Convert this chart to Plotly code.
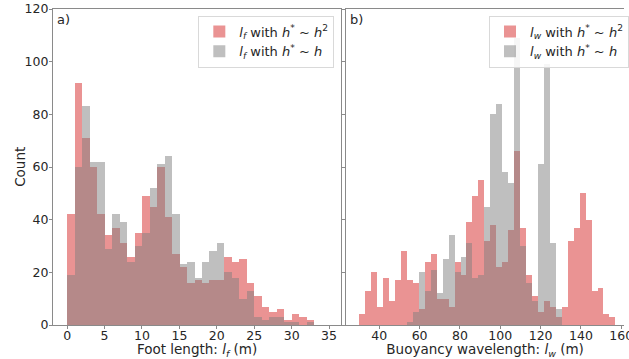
import numpy as np
import plotly.graph_objects as go

# ---------------- data ----------------
# Panel a) foot length histogram, bins of 1 m starting at 0 m
foot_bin_start = 0.0
foot_bin_width = 1.0
foot_h2 = [42, 92, 71, 60, 42, 34, 37, 31, 26, 35, 49, 45, 60, 41, 27, 22, 16,
           17, 16, 17, 17, 26, 24, 25, 16, 11, 7, 5, 6, 2, 4, 3, 2]
foot_h1 = [19, 60, 83, 62, 62, 29, 42, 39, 24, 30, 35, 52, 61, 64, 42, 23, 24,
           18, 24, 28, 31, 20, 18, 10, 13, 3, 2, 3, 3, 1, 1, 0, 1]

# Panel b) buoyancy wavelength histogram
wave_bin_start = 30.2
wave_bin_width = 2.953
wave_h2 = [4, 13, 20, 7, 18, 9, 17, 28, 17, 16, 6, 24, 27, 10, 10, 7, 24, 19,
           39, 49, 55, 32, 38, 22, 24, 36, 66, 37, 19, 11, 5, 9, 7, 3, 7, 32,
           37, 50, 40, 13, 14, 4, 3]
wave_h1 = [0, 0, 0, 0, 0, 0, 0, 0, 1, 5, 20, 13, 21, 12, 25, 34, 20, 26, 31,
           18, 19, 45, 80, 84, 58, 54, 109, 30, 16, 9, 61, 99, 31, 6, 0, 0, 0,
           0, 0, 0, 0, 0, 0]

foot_ticks = [0, 5, 10, 15, 20, 25, 30, 35]
wave_ticks = [40, 60, 80, 100, 120, 140, 160]
count_ticks = [0, 20, 40, 60, 80, 100, 120]

# ---------------- styling ----------------
W, H = 629, 359
RED = "rgba(214,39,40,0.5)"
GRAY = "rgba(128,128,128,0.5)"
FONT = "DejaVu Sans"
SPINE = "#8a8a8a"
TXT = "#262626"


def centers(start, width, n):
    return start + width * (np.arange(n) + 0.5)


fx = centers(foot_bin_start, foot_bin_width, len(foot_h2))
wx = centers(wave_bin_start, wave_bin_width, len(wave_h2))

fig = go.Figure()
fig.add_trace(go.Bar(x=fx, y=foot_h2, width=foot_bin_width, marker=dict(color=RED, line=dict(width=0)),
                     name="<i>l<sub>f</sub></i> with <i>h</i><sup>*</sup> ~ <i>h</i><sup>2</sup>",
                     xaxis="x", yaxis="y", legend="legend"))
fig.add_trace(go.Bar(x=fx, y=foot_h1, width=foot_bin_width, marker=dict(color=GRAY, line=dict(width=0)),
                     name="<i>l<sub>f</sub></i> with <i>h</i><sup>*</sup> ~ <i>h</i>",
                     xaxis="x", yaxis="y", legend="legend"))
fig.add_trace(go.Bar(x=wx, y=wave_h2, width=wave_bin_width, marker=dict(color=RED, line=dict(width=0)),
                     name="<i>l<sub>w</sub></i> with <i>h</i><sup>*</sup> ~ <i>h</i><sup>2</sup>",
                     xaxis="x2", yaxis="y2", legend="legend2"))
fig.add_trace(go.Bar(x=wx, y=wave_h1, width=wave_bin_width, marker=dict(color=GRAY, line=dict(width=0)),
                     name="<i>l<sub>w</sub></i> with <i>h</i><sup>*</sup> ~ <i>h</i>",
                     xaxis="x2", yaxis="y2", legend="legend2"))

ydom = [1 - 325 / H, 1 - 9 / H]
axis_common = dict(showline=True, linecolor=SPINE, linewidth=1, ticks="outside", ticklen=3,
                   tickcolor=SPINE, showgrid=False, zeroline=False, automargin=False,
                   ticklabeloverflow="allow",
                   tickfont=dict(family=FONT, size=12.5, color=TXT))

fig.update_layout(
    template="none",
    width=W, height=H,
    margin=dict(l=0, r=0, t=0, b=0),
    paper_bgcolor="white", plot_bgcolor="white",
    barmode="overlay", bargap=0,
    font=dict(family=FONT, size=13, color=TXT),
    xaxis=dict(domain=[53.3 / W, 344 / W], range=[-1.91, 36.63], tickvals=foot_ticks,
               mirror=True, anchor="y", ticklabelstandoff=-4,
               title=dict(text="Foot length: <i>l<sub>f</sub></i> (m)", standoff=1,
                          font=dict(family=FONT, size=13.5, color=TXT)),
               **axis_common),
    yaxis=dict(domain=ydom, range=[0, 120], tickvals=count_ticks, mirror=True, anchor="x",
               ticklabelstandoff=-2, **axis_common),
    xaxis2=dict(domain=[349 / W, 1.0], range=[23.62, 161.35], tickvals=wave_ticks,
                mirror=True, anchor="y2", ticklabelstandoff=-4,
                title=dict(text="Buoyancy wavelength: <i>l<sub>w</sub></i> (m)", standoff=1,
                           font=dict(family=FONT, size=13.5, color=TXT)),
                **axis_common),
    yaxis2=dict(domain=ydom, range=[0, 120], tickvals=count_ticks, showticklabels=False,
                mirror=False, anchor="x2", **axis_common),
    legend=dict(x=337 / W, y=1 - 15.5 / H, xanchor="right", yanchor="top",
                bgcolor="rgba(255,255,255,0.85)", bordercolor="#d9d9d9", borderwidth=1,
                font=dict(family=FONT, size=13, color=TXT), tracegroupgap=0),
    legend2=dict(x=493 / W, y=1 - 15.5 / H, xanchor="left", yanchor="top",
                 bgcolor="rgba(255,255,255,0.85)", bordercolor="#d9d9d9", borderwidth=1,
                 font=dict(family=FONT, size=13, color=TXT), tracegroupgap=0),
    showlegend=True,
)

# y-axis title placed like the reference
fig.add_annotation(text="Count", x=20 / W, y=1 - 167 / H, xref="paper", yref="paper",
                   xanchor="center", yanchor="middle", textangle=-90, showarrow=False,
                   font=dict(family=FONT, size=13.5, color=TXT))
fig.add_annotation(text="a)", x=55 / W, y=1 - 10 / H, xref="paper", yref="paper",
                   xanchor="left", yanchor="top", showarrow=False,
                   font=dict(family=FONT, size=13, color=TXT))
fig.add_annotation(text="b)", x=351 / W, y=1 - 10 / H, xref="paper", yref="paper",
                   xanchor="left", yanchor="top", showarrow=False,
                   font=dict(family=FONT, size=13, color=TXT))

fig.write_html("out.html", config={"displayModeBar": False},
               post_script="document.body.style.margin='0';document.body.style.padding='0';")
